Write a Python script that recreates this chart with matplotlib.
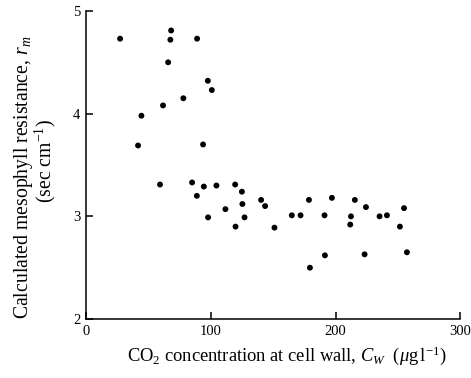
import matplotlib
matplotlib.use("Agg")
import matplotlib.pyplot as plt

# CO2 concentration at the cell wall (ug/l) and calculated mesophyll resistance (s/cm)
cw = [27.3, 68.2, 67.6, 89.0, 65.8, 97.6, 100.8, 78.0, 61.7, 44.4, 41.7, 93.8,
      59.3, 85.0, 94.4, 88.8, 104.5, 119.5, 124.9, 125.3, 111.7, 97.8, 127.0,
      119.8, 140.3, 143.5, 151.0,
      164.9, 171.9, 178.6, 179.4, 191.1, 191.4, 197.0, 215.4, 212.3, 211.7,
      224.3, 223.2, 235.2, 241.1, 254.8, 251.5, 257.1]
rm = [4.73, 4.81, 4.72, 4.73, 4.50, 4.32, 4.23, 4.15, 4.08, 3.98, 3.69, 3.70,
      3.31, 3.33, 3.29, 3.20, 3.30, 3.31, 3.24, 3.12, 3.07, 2.99, 2.99,
      2.90, 3.16, 3.10, 2.89,
      3.01, 3.01, 3.16, 2.50, 3.01, 2.62, 3.18, 3.16, 3.00, 2.92,
      3.09, 2.63, 3.00, 3.01, 3.08, 2.90, 2.65]

x_ticks = [0, 100, 200, 300]
y_ticks = [2, 3, 4, 5]

plt.rcParams["font.family"] = ["Liberation Serif", "DejaVu Serif"]
plt.rcParams["mathtext.fontset"] = "custom"
plt.rcParams["mathtext.rm"] = "Liberation Serif"
plt.rcParams["mathtext.it"] = "Liberation Serif:italic"
plt.rcParams["mathtext.bf"] = "Liberation Serif:bold"

fig = plt.figure(figsize=(4.71, 3.78), dpi=100)
ax = fig.add_axes([0.1826, 0.156, 0.795, 0.815])

ax.scatter(cw, rm, s=18, color="black", edgecolors="none", zorder=3)

ax.set_xlim(0, 300)
ax.set_ylim(2, 5)
ax.set_xticks(x_ticks)
ax.set_yticks(y_ticks)
ax.tick_params(direction="in", length=5, width=1.1, labelsize=10.5, pad=4)
for side in ("top", "right"):
    ax.spines[side].set_visible(False)
for side in ("left", "bottom"):
    ax.spines[side].set_linewidth(1.1)

fig.text(0.609, 0.058,
         r"CO$_2$ concentration at cell wall, $C_W$  ($\mu$g$\,$l$^{-1}$)",
         ha="center", va="center", fontsize=13.3)
fig.text(0.049, 0.530, r"Calculated mesophyll resistance, $r_m$",
         ha="center", va="center", rotation=90, fontsize=14.2)
fig.text(0.0955, 0.574, r"(sec cm$^{-1}$)",
         ha="center", va="center", rotation=90, fontsize=14.2)

fig.savefig("out.png", dpi=100)
